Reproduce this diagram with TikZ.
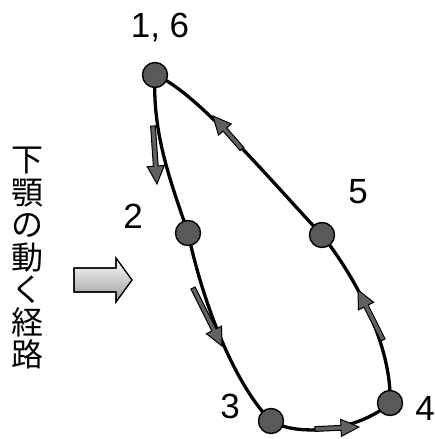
\documentclass[tikz,border=0pt]{standalone}
\usepackage{fontspec}
\setmainfont{Liberation Sans}
\newfontfamily\cjk{Noto Sans CJK JP}
\usetikzlibrary{calc}
\tikzset{
  pathline/.style={line width=3.3pt, black},
  dot/.style={circle, minimum size=25pt, inner sep=0pt, fill=black!65, draw=black, line width=1.4pt},
  lbl/.style={font=\fontsize{35}{40}\selectfont, inner sep=0pt, anchor=base},
  blockarrowstyle/.style={fill=black!62, draw=black, line width=1pt, line join=miter},
  hollowarrow/.style={draw=black, line width=1.1pt, top color=white, middle color=white, bottom color=black!40}
}
\newcommand\blockarr[2]{%
  \coordinate (#1-#2) at ($(#2)!18pt!(#1)$);
  \filldraw[blockarrowstyle] ($(#1)!2.4pt!90:(#2)$) -- ($(#1-#2)!2.4pt!90:(#2)$) -- ($(#1-#2)!8.5pt!90:(#2)$) -- (#2) -- ($(#1-#2)!8.5pt!-90:(#2)$) -- ($(#1-#2)!2.4pt!-90:(#2)$) -- ($(#1)!2.4pt!-90:(#2)$) -- cycle;}
\begin{document}
\begin{tikzpicture}[x=1pt, y=-1pt]
  \useasboundingbox (0,0) rectangle (435,439);
  % key points
  \coordinate (p1) at (155,75);
  \coordinate (p2) at (188,233);
  \coordinate (p3) at (271,421);
  \coordinate (p4) at (390,403);
  \coordinate (p5) at (322,235);
  % closed path
  \draw[pathline] (p1) .. controls (152,135) and (172,185) .. (p2)
     .. controls (207,320) and (240,390) .. (p3)
     .. controls (300,438) and (360,430) .. (p4)
     .. controls (392,355) and (365,290) .. (p5)
     .. controls (270,180) and (195,90) .. (p1);
  % direction arrows
  \coordinate (a1t) at (153,126); \coordinate (a1h) at (157,184);
  \coordinate (a2t) at (193,288); \coordinate (a2h) at (222,346);
  \coordinate (a3t) at (315,429); \coordinate (a3h) at (359,427);
  \coordinate (a4t) at (383,340); \coordinate (a4h) at (358,290);
  \coordinate (a5t) at (242,149); \coordinate (a5h) at (213,116);
  \blockarr{a1t}{a1h}
  \blockarr{a2t}{a2h}
  \blockarr{a3t}{a3h}
  \blockarr{a4t}{a4h}
  \blockarr{a5t}{a5h}
  % dots
  \node[dot] (d1) at (p1) {};
  \node[dot] (d2) at (p2) {};
  \node[dot] (d3) at (p3) {};
  \node[dot] (d4) at (p4) {};
  \node[dot] (d5) at (p5) {};
  % labels
  \node[lbl] (l1) at (160,37) {1, 6};
  \node[lbl] (l2) at (133,228) {2};
  \node[lbl] (l3) at (230,418) {3};
  \node[lbl] (l4) at (425,420) {4};
  \node[lbl] (l5) at (358,203) {5};
  % vertical Japanese caption
  \node[font=\cjk\fontsize{32}{32.5}\selectfont, align=center, inner sep=0pt, anchor=north] (cap) at (27,147)
    {下\\顎\\の\\動\\く\\経\\路};
  % hollow arrow
  \shade[hollowarrow] (74,268) -- (116,268) -- (116,258) -- (132,280) -- (116,302) -- (116,292) -- (74,292) -- cycle;
  \draw[black, line width=1.1pt] (74,268) -- (116,268) -- (116,258) -- (132,280) -- (116,302) -- (116,292) -- (74,292) -- cycle;
\end{tikzpicture}
\end{document}
